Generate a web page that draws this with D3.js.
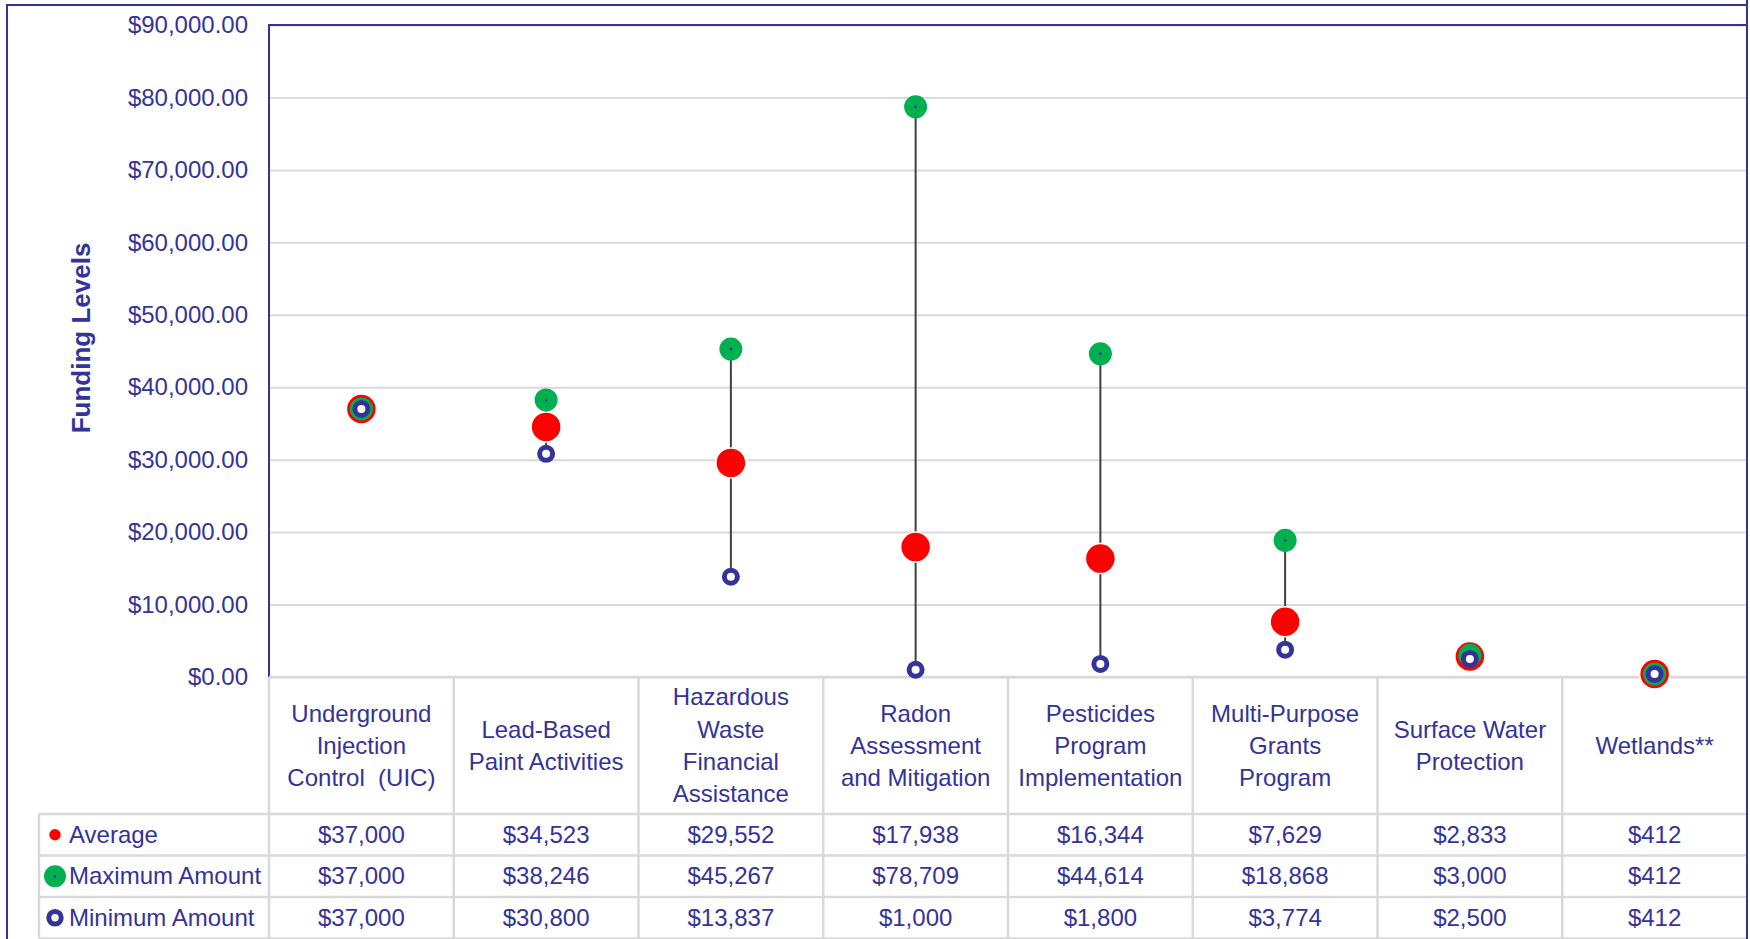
<!DOCTYPE html>
<html>
<head>
<meta charset="utf-8">
<script src="https://cdn.jsdelivr.net/npm/d3@7"></script>
<style>
  body { margin: 0; background: #fff; }
  text { font-family: "Liberation Sans", Arial, sans-serif; fill: #333399; white-space: pre; }
</style>
</head>
<body>
<script>
// chart data
const categories = [
    ["Underground", "Injection", "Control  (UIC)"],
    ["Lead-Based", "Paint Activities"],
    ["Hazardous", "Waste", "Financial", "Assistance"],
    ["Radon", "Assessment", "and Mitigation"],
    ["Pesticides", "Program", "Implementation"],
    ["Multi-Purpose", "Grants", "Program"],
    ["Surface Water", "Protection"],
    ["Wetlands**"]
];
const average = [37000, 34523, 29552, 17938, 16344, 7629, 2833, 412];
const maximum = [37000, 38246, 45267, 78709, 44614, 18868, 3000, 412];
const minimum = [37000, 30800, 13837, 1000, 1800, 3774, 2500, 412];
const seriesNames = ["Average", "Maximum Amount", "Minimum Amount"];
const yTicks = [0, 10000, 20000, 30000, 40000, 50000, 60000, 70000, 80000, 90000];
const yTitle = "Funding Levels";

const W = 1750, H = 939;
const navy = "#333399", grid = "#D9D9D9";
const plotL = 269, plotR = 1747, plotT = 25, plotB = 677;
const rowEdges = [677, 814, 855.5, 897, 938.5];
const legendL = 39;
const fs = "24px";

let svg = d3.select("body")
    .append("svg")
    .attr("width", W)
    .attr("height", H);

let x = d3.scaleBand()
    .domain(d3.range(categories.length))
    .range([plotL, plotR]);
let cx = i => x(i) + x.bandwidth() / 2;

let y = d3.scaleLinear()
    .domain([0, 90000])
    .range([plotB, plotT]);

// outer frame
svg.append("rect")
    .attr("x", 7).attr("y", 5)
    .attr("width", plotR - 7).attr("height", 1000)
    .attr("fill", "none")
    .attr("stroke", navy)
    .attr("stroke-width", 2);

// y axis with gridlines
let yAxis = svg.append("g")
    .attr("transform", `translate(${plotL},0)`)
    .call(d3.axisLeft(y)
        .tickValues(yTicks)
        .tickSize(-(plotR - plotL))
        .tickPadding(21)
        .tickFormat(d => "$" + d3.format(",.2f")(d)));
yAxis.select(".domain").remove();
yAxis.selectAll(".tick line")
    .attr("stroke", grid)
    .attr("stroke-width", 2);
yAxis.selectAll(".tick text")
    .attr("font-size", fs)
    .attr("fill", navy);

svg.append("text")
    .attr("transform", "translate(90,338) rotate(-90)")
    .attr("text-anchor", "middle")
    .attr("font-size", "26px")
    .attr("font-weight", "bold")
    .text(yTitle);

// plot border (left + top)
svg.append("path")
    .attr("d", `M${plotL},${plotB} V${plotT} H${plotR} V${plotB}`)
    .attr("fill", "none")
    .attr("stroke", navy)
    .attr("stroke-width", 2);

// table grid lines
let tbl = svg.append("g").attr("stroke", grid).attr("stroke-width", 2.5);
tbl.append("line")
    .attr("x1", plotL).attr("x2", plotR)
    .attr("y1", rowEdges[0]).attr("y2", rowEdges[0]);
rowEdges.slice(1).forEach(ry => {
    tbl.append("line")
        .attr("x1", legendL).attr("x2", plotR)
        .attr("y1", ry).attr("y2", ry);
});
tbl.append("line")
    .attr("x1", legendL).attr("x2", legendL)
    .attr("y1", rowEdges[1]).attr("y2", rowEdges[4]);
tbl.selectAll("line.col")
    .data(d3.range(categories.length))
    .enter()
    .append("line")
    .attr("class", "col")
    .attr("x1", d => x(d)).attr("x2", d => x(d))
    .attr("y1", rowEdges[0]).attr("y2", rowEdges[4]);
svg.append("line")
    .attr("x1", plotR).attr("x2", plotR)
    .attr("y1", 0).attr("y2", H)
    .attr("stroke", navy).attr("stroke-width", 2);

// category header text
let headMid = (rowEdges[0] + rowEdges[1]) / 2;
svg.selectAll("text.cat")
    .data(categories)
    .enter()
    .append("text")
    .attr("class", "cat")
    .attr("text-anchor", "middle")
    .attr("font-size", fs)
    .each(function (lines, i) {
        d3.select(this).selectAll("tspan")
            .data(lines)
            .enter()
            .append("tspan")
            .attr("x", cx(i))
            .attr("y", (d, j) => headMid + (j - (lines.length - 1) / 2) * 32.3)
            .attr("dy", "0.35em")
            .text(d => d);
    });

// data rows
let series = [average, maximum, minimum];
let fmt = d => "$" + d3.format(",")(d);
series.forEach((vals, r) => {
    let mid = (rowEdges[r + 1] + rowEdges[r + 2]) / 2 - 0.5;
    svg.append("g")
        .selectAll("text")
        .data(vals)
        .enter()
        .append("text")
        .attr("x", (d, i) => cx(i))
        .attr("y", mid)
        .attr("dy", "0.35em")
        .attr("text-anchor", "middle")
        .attr("font-size", fs)
        .text(fmt);
    svg.append("text")
        .attr("x", 69)
        .attr("y", mid)
        .attr("dy", "0.35em")
        .attr("font-size", fs)
        .text(seriesNames[r]);
});

// legend markers
let lx = 55;
let m0 = (rowEdges[1] + rowEdges[2]) / 2,
    m1 = (rowEdges[2] + rowEdges[3]) / 2,
    m2 = (rowEdges[3] + rowEdges[4]) / 2;
svg.append("circle").attr("cx", lx).attr("cy", m0).attr("r", 5.7).attr("fill", "#FF0000");
svg.append("circle").attr("cx", lx).attr("cy", m1).attr("r", 11).attr("fill", "#00B050");
svg.append("circle").attr("cx", lx).attr("cy", m1).attr("r", 1.2).attr("fill", navy);
svg.append("circle").attr("cx", lx).attr("cy", m2).attr("r", 6.2)
    .attr("fill", "#fff").attr("stroke", navy).attr("stroke-width", 5);

// high-low lines
svg.selectAll("line.hl")
    .data(d3.range(categories.length))
    .enter()
    .append("line")
    .attr("class", "hl")
    .attr("x1", d => cx(d)).attr("x2", d => cx(d))
    .attr("y1", d => y(maximum[d]))
    .attr("y2", d => y(minimum[d]))
    .attr("stroke", "#404040")
    .attr("stroke-width", 2);

// average
svg.selectAll("circle.avg")
    .data(average)
    .enter()
    .append("circle")
    .attr("class", "avg")
    .attr("cx", (d, i) => cx(i))
    .attr("cy", d => y(d))
    .attr("r", 15)
    .attr("fill", "#FF0000")
    .attr("stroke", "#fff")
    .attr("stroke-width", 1.5);

// maximum
svg.selectAll("circle.max")
    .data(maximum)
    .enter()
    .append("circle")
    .attr("class", "max")
    .attr("cx", (d, i) => cx(i))
    .attr("cy", d => y(d))
    .attr("r", 11.5)
    .attr("fill", "#00B050");
svg.selectAll("circle.maxdot")
    .data(maximum)
    .enter()
    .append("circle")
    .attr("class", "maxdot")
    .attr("cx", (d, i) => cx(i))
    .attr("cy", d => y(d))
    .attr("r", 1.2)
    .attr("fill", navy);

// minimum
svg.selectAll("circle.min")
    .data(minimum)
    .enter()
    .append("circle")
    .attr("class", "min")
    .attr("cx", (d, i) => cx(i))
    .attr("cy", d => y(d))
    .attr("r", 6.5)
    .attr("fill", "#fff")
    .attr("stroke", navy)
    .attr("stroke-width", 5);
</script>
</body>
</html>
